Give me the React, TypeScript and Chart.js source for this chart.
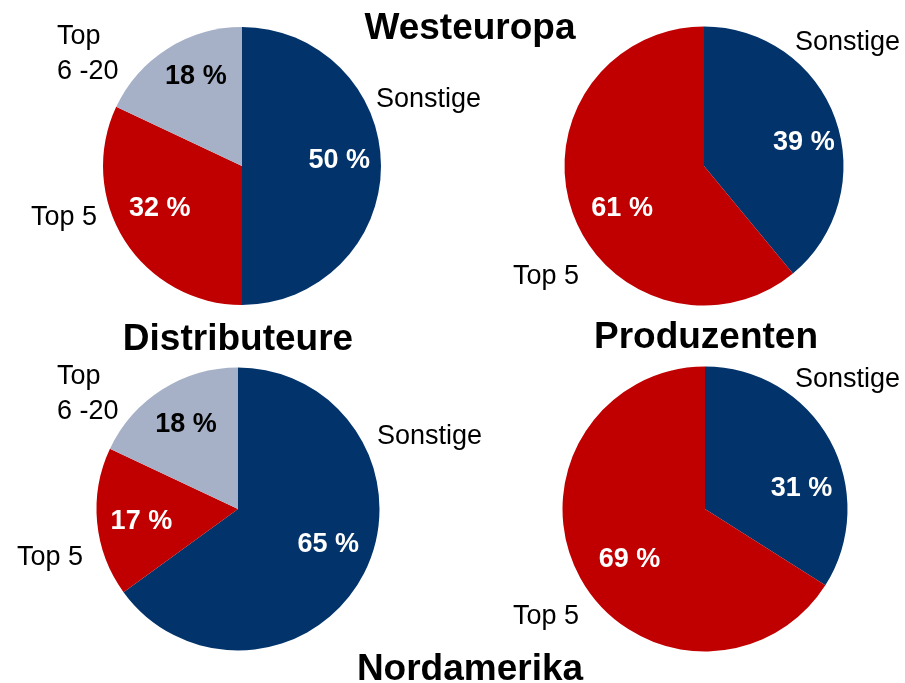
import React, { useEffect, useRef } from "react";
import { Chart, registerables } from "chart.js";

Chart.register(...registerables);

// ---- data ----
const categories = ["Sonstige", "Top 5", "Top 6 -20"];
// slice sizes as drawn in the picture
const westDistributeure = [50, 32, 18];
const westProduzenten = [39, 61];
const nordDistributeure = [65, 17, 18];
const nordProduzenten = [34, 66];
// percentage labels as printed in the picture
const westDistributeureLabels = ["50 %", "32 %", "18 %"];
const westProduzentenLabels = ["39 %", "61 %"];
const nordDistributeureLabels = ["65 %", "17 %", "18 %"];
const nordProduzentenLabels = ["31 %", "69 %"];
const titleTexts = ["Westeuropa", "Distributeure", "Produzenten", "Nordamerika"];

const W = 905;
const H = 683;
const FONT = "'Liberation Sans', Arial, Helvetica, sans-serif";
const COLORS = ["#02336A", "#C00000", "#A6B1C8"];
const PCT_COLORS = ["#ffffff", "#ffffff", "#000000"];

type OutLabel = { lines: string[]; dx: number; dy: number; align: CanvasTextAlign };
type PanelCfg = {
  values: number[];
  labels: string[];
  cx: number;
  cy: number;
  r: number;
  pctOffsets: number[][];
  outside: OutLabel[];
};

const panels: PanelCfg[] = [
  {
    values: westDistributeure,
    labels: westDistributeureLabels,
    cx: 242, cy: 166, r: 139,
    pctOffsets: [[0, -5], [0, -10], [6, -7]],
    outside: [
      { lines: [categories[0]], dx: 134, dy: -66, align: "left" },
      { lines: [categories[1]], dx: -145, dy: 52, align: "right" },
      { lines: ["Top", "6 -20"], dx: -185, dy: -129, align: "left" },
    ],
  },
  {
    values: westProduzenten,
    labels: westProduzentenLabels,
    cx: 704, cy: 166, r: 139.5,
    pctOffsets: [[8, 10], [10, 9]],
    outside: [
      { lines: [categories[0]], dx: 91, dy: -123, align: "left" },
      { lines: [categories[1]], dx: -191, dy: 111, align: "left" },
    ],
  },
  {
    values: nordDistributeure,
    labels: nordDistributeureLabels,
    cx: 238, cy: 509, r: 141.5,
    pctOffsets: [[2, -9], [2, 3], [1, -1]],
    outside: [
      { lines: [categories[0]], dx: 139, dy: -72, align: "left" },
      { lines: [categories[1]], dx: -221, dy: 49, align: "left" },
      { lines: ["Top", "6 -20"], dx: -181, dy: -132, align: "left" },
    ],
  },
  {
    values: nordProduzenten,
    labels: nordProduzentenLabels,
    cx: 705, cy: 509, r: 142.5,
    pctOffsets: [[9, 28], [12, 2]],
    outside: [
      { lines: [categories[0]], dx: 90, dy: -129, align: "left" },
      { lines: [categories[1]], dx: -192, dy: 108, align: "left" },
    ],
  },
];

const titlePos = [
  { x: 470, y: 39 },
  { x: 238, y: 350 },
  { x: 706, y: 348 },
  { x: 470, y: 680 },
];

const pieLabelPlugin = {
  id: "pieLabels",
  afterDatasetsDraw(chart: any, _args: any, opts: any) {
    const ctx = chart.ctx as CanvasRenderingContext2D;
    const meta = chart.getDatasetMeta(0);
    const panel: PanelCfg = opts.panel;
    ctx.save();
    // percentage labels inside slices
    ctx.font = `bold 27px ${FONT}`;
    ctx.textAlign = "center";
    ctx.textBaseline = "middle";
    meta.data.forEach((arc: any, i: number) => {
      const p = arc.getProps(["x", "y", "startAngle", "endAngle", "outerRadius"], true);
      const mid = (p.startAngle + p.endAngle) / 2;
      const off = panel.pctOffsets[i] || [0, 0];
      const x = p.x + Math.cos(mid) * p.outerRadius * 0.7 + off[0];
      const y = p.y + Math.sin(mid) * p.outerRadius * 0.7 + off[1];
      ctx.fillStyle = PCT_COLORS[i];
      ctx.fillText(panel.labels[i], x, y);
    });
    // outside category labels
    ctx.font = `27px ${FONT}`;
    ctx.fillStyle = "#000000";
    const first: any = meta.data[0];
    const cx = first ? first.x : panel.cx;
    const cy = first ? first.y : panel.cy;
    panel.outside.forEach((lab) => {
      ctx.textAlign = lab.align;
      lab.lines.forEach((line, li) => {
        ctx.fillText(line, cx + lab.dx, cy + lab.dy + li * 35);
      });
    });
    // titles (drawn once)
    if (opts.drawTitles) {
      ctx.font = `bold 37px ${FONT}`;
      ctx.textAlign = "center";
      ctx.textBaseline = "alphabetic";
      titleTexts.forEach((t, i) => {
        ctx.fillText(t, titlePos[i].x, titlePos[i].y);
      });
    }
    ctx.restore();
  },
};

function PiePanel({ panel, drawTitles }: { panel: PanelCfg; drawTitles: boolean }) {
  const ref = useRef<HTMLCanvasElement | null>(null);
  useEffect(() => {
    if (!ref.current) return;
    const chart = new Chart(ref.current, {
      type: "pie",
      data: {
        labels: categories.slice(0, panel.values.length),
        datasets: [
          {
            data: panel.values,
            backgroundColor: COLORS.slice(0, panel.values.length),
            borderWidth: 0,
          },
        ],
      },
      options: {
        responsive: false,
        maintainAspectRatio: false,
        animation: false,
        layout: {
          padding: {
            left: panel.cx - panel.r,
            top: panel.cy - panel.r,
            right: W - panel.cx - panel.r,
            bottom: H - panel.cy - panel.r,
          },
        },
        plugins: {
          legend: { display: false },
          tooltip: { enabled: false },
          title: { display: false },
          pieLabels: { panel, drawTitles },
        } as any,
      },
      plugins: [pieLabelPlugin],
    });
    return () => chart.destroy();
  }, [panel, drawTitles]);
  return (
    <canvas
      ref={ref}
      width={W}
      height={H}
      style={{ position: "absolute", left: 0, top: 0, width: W, height: H }}
    />
  );
}

export default function App() {
  return (
    <div style={{ position: "absolute", left: 0, top: 0, width: W, height: H, background: "#ffffff", overflow: "hidden" }}>
      {panels.map((p, i) => (
        <PiePanel key={i} panel={p} drawTitles={i === 0} />
      ))}
    </div>
  );
}
